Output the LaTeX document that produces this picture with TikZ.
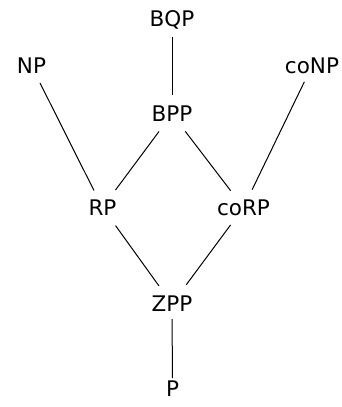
\documentclass[tikz,border=0pt]{standalone}
\usepackage{fontspec}
\setmainfont{DejaVu Sans}
\begin{document}
\begin{tikzpicture}[x=1pt,y=-1pt,
  cls/.style={inner sep=0pt, text height=15.6pt, text depth=0pt, font=\fontsize{21.5pt}{24pt}\selectfont},
  edge/.style={line width=1pt}]
\useasboundingbox (0,0) rectangle (342,407);
\node[cls] (BQP) at (172,18.5) {BQP};
\node[cls] (NP) at (31.5,66) {NP};
\node[cls] (coNP) at (312,66) {coNP};
\node[cls] (BPP) at (172,114) {BPP};
\node[cls] (RP) at (102.5,207.5) {RP};
\node[cls] (coRP) at (243.5,207.5) {coRP};
\node[cls] (ZPP) at (172,304) {ZPP};
\node[cls] (P) at (172.5,388.5) {P};
\draw[edge, shorten <=18.5pt, shorten >=19pt] (BQP.center) -- (BPP.center);
\draw[edge, shorten <=19pt, shorten >=19pt] (NP.center) -- (RP.center);
\draw[edge, shorten <=17.5pt, shorten >=19.8pt] (coNP.center) -- (coRP.center);
\draw[edge, shorten <=21.8pt, shorten >=21.8pt] (BPP.center) -- (RP.center);
\draw[edge, shorten <=21.8pt, shorten >=21.2pt] (BPP.center) -- (coRP.center);
\draw[edge, shorten <=22.4pt, shorten >=22.4pt] (RP.center) -- (ZPP.center);
\draw[edge, shorten <=21.7pt, shorten >=24pt] (coRP.center) -- (ZPP.center);
\draw[edge, shorten <=15pt, shorten >=10.5pt] (ZPP.center) -- (P.center);
\end{tikzpicture}
\end{document}
